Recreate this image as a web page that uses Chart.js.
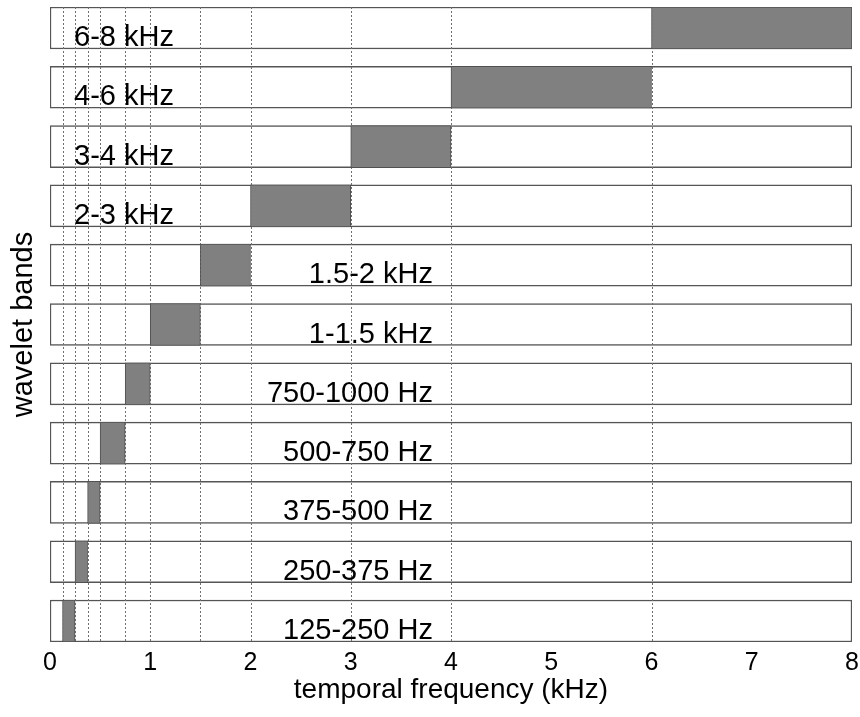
<!DOCTYPE html>
<html>
<head>
<meta charset="utf-8">
<script src="https://cdn.jsdelivr.net/npm/chart.js@4.4.1/dist/chart.umd.min.js"></script>
<style>
  html, body { margin: 0; padding: 0; background: #fff; }
  #wrap { width: 860px; height: 717px; }
</style>
</head>
<body>
<div id="wrap"><canvas id="myChart"></canvas></div>
<script>
// wavelet bands, top to bottom
var bandLabels = ['6-8 kHz', '4-6 kHz', '3-4 kHz', '2-3 kHz', '1.5-2 kHz', '1-1.5 kHz',
  '750-1000 Hz', '500-750 Hz', '375-500 Hz', '250-375 Hz', '125-250 Hz'];
var bandLow  = [6, 4, 3, 2, 1.5, 1, 0.75, 0.5, 0.375, 0.25, 0.125];
var bandHigh = [8, 6, 4, 3, 2, 1.5, 1, 0.75, 0.5, 0.375, 0.25];
var xTicks = [0, 1, 2, 3, 4, 5, 6, 7, 8];

var FONT = "'Liberation Sans', Arial, sans-serif";

var bandData = bandLabels.map(function (l, i) { return { x: [bandLow[i], bandHigh[i]], y: i }; });
var boxData = bandLabels.map(function (l, i) { return { x: [0, 8], y: i }; });

// dotted lines at every band edge
var edges = [];
bandLow.concat(bandHigh).forEach(function (v) {
  if (v > 0 && v < 8 && edges.indexOf(v) < 0) edges.push(v);
});

var bandPlugin = {
  id: 'bandPlugin',
  afterDatasetDraw: function (chart, args) {
    if (args.index !== 1) return;
    var c = chart.ctx, xs = chart.scales.x, a = chart.chartArea;
    c.save();
    c.strokeStyle = '#707070';
    c.lineWidth = 1;
    c.setLineDash([2, 2]);
    edges.forEach(function (v) {
      var px = Math.round(xs.getPixelForValue(v)) + 0.5;
      c.beginPath();
      c.moveTo(px, a.top);
      c.lineTo(px, a.bottom);
      c.stroke();
    });
    c.restore();
  },
  afterDatasetsDraw: function (chart) {
    var c = chart.ctx, xs = chart.scales.x, ys = chart.scales.y;
    c.save();
    c.fillStyle = '#000';
    c.font = '29px ' + FONT;
    c.textBaseline = 'alphabetic';
    bandLabels.forEach(function (l, i) {
      var py = ys.getPixelForValue(i) + 18;
      if (bandLow[i] >= 2) {
        c.textAlign = 'left';
        c.fillText(l, xs.getPixelForValue(0.24), py);
      } else {
        c.textAlign = 'right';
        c.fillText(l, xs.getPixelForValue(3.82), py);
      }
    });
    c.restore();
  }
};

var ctx = document.getElementById('myChart').getContext('2d');
var myChart = new Chart(ctx, {
  type: 'bar',
  data: {
    datasets: [{
      data: bandData,
      backgroundColor: '#808080',
      borderColor: '#505050',
      borderWidth: 1,
      borderSkipped: false,
      barThickness: 42,
      grouped: false
    }, {
      data: boxData,
      backgroundColor: '#ffffff',
      borderColor: '#555555',
      borderWidth: 1.5,
      borderSkipped: false,
      barThickness: 42,
      grouped: false
    }]
  },
  plugins: [bandPlugin],
  options: {
    indexAxis: 'y',
    responsive: true,
    maintainAspectRatio: false,
    animation: false,
    layout: { padding: { top: 7, right: 8, bottom: 0, left: 0 } },
    plugins: {
      legend: { display: false },
      tooltip: { enabled: false }
    },
    scales: {
      x: {
        type: 'linear',
        min: 0,
        max: 8,
        afterBuildTicks: function (scale) {
          scale.ticks = xTicks.map(function (v) { return { value: v }; });
        },
        afterFit: function (scale) {
          scale.height = 75;
          scale.paddingLeft = 0;
          scale.paddingRight = 0;
        },
        grid: { display: false, drawTicks: false },
        border: { display: false },
        ticks: {
          color: '#000',
          padding: 6,
          font: { family: FONT, size: 25 }
        },
        title: {
          display: true,
          text: 'temporal frequency (kHz)',
          color: '#000',
          font: { family: FONT, size: 28 },
          padding: { top: 0, bottom: 10 }
        }
      },
      y: {
        type: 'linear',
        reverse: true,
        offset: false,
        min: -0.354,
        max: 10.354,
        afterFit: function (scale) { scale.width = 50; },
        grid: { display: false, drawTicks: false, offset: false },
        border: { display: false },
        ticks: { display: false },
        title: {
          display: true,
          text: 'wavelet bands',
          color: '#000',
          font: { family: FONT, size: 29 },
          padding: { top: 7, bottom: 0 }
        }
      }
    }
  }
});
</script>
</body>
</html>
